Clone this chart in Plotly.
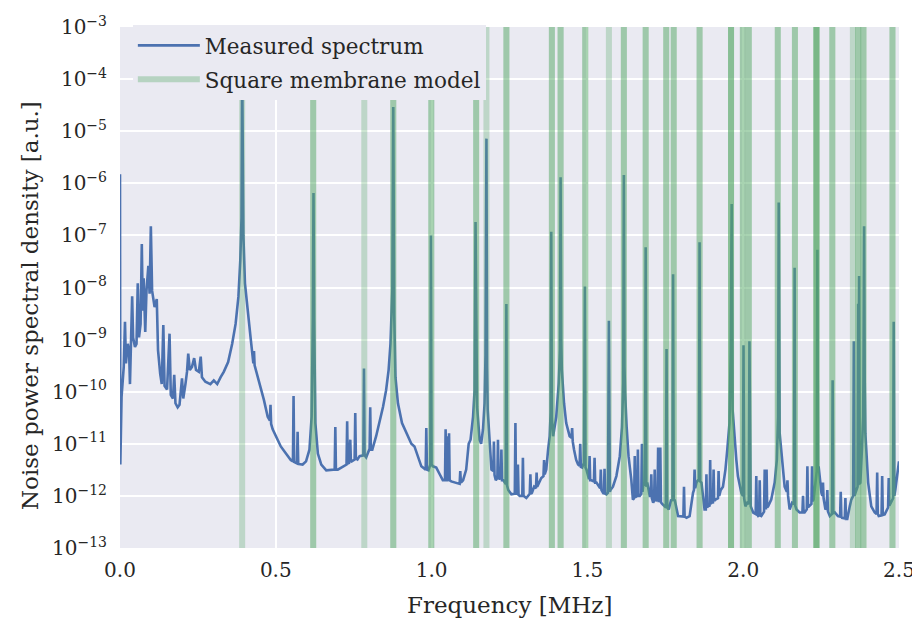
import plotly.graph_objects as go

# ---------------- data ----------------
# Measured noise power spectrum: (frequency [MHz], PSD [a.u.]) points, by frequency band
spectrum_0_065 = [
    (0.000, 1.5e-6), (0.001, 4.0e-12), (0.005, 7.9e-11), (0.012, 3.0e-10), (0.016, 2.2e-9),
    (0.019, 3.5e-10), (0.025, 8.3e-10), (0.029, 6.3e-10), (0.032, 1.4e-10), (0.035, 7.2e-10),
    (0.039, 6.8e-9), (0.042, 1.1e-9), (0.048, 7.2e-10), (0.053, 8.3e-10), (0.057, 1.2e-8),
    (0.061, 1.1e-9), (0.066, 2.0e-9), (0.070, 6.8e-8), (0.073, 3.6e-9), (0.076, 1.5e-8),
    (0.081, 1.4e-9), (0.085, 8.7e-9), (0.091, 2.6e-8), (0.095, 7.6e-9), (0.099, 1.5e-7),
    (0.103, 8.7e-9), (0.111, 4.2e-9), (0.118, 6.0e-9), (0.122, 6.3e-10), (0.129, 2.2e-10),
    (0.134, 1.4e-10), (0.139, 1.9e-9), (0.143, 1.3e-10), (0.151, 1.1e-10), (0.159, 1.3e-9),
    (0.163, 8.7e-11), (0.170, 7.4e-11), (0.174, 2.1e-10), (0.178, 6.0e-11), (0.185, 5.0e-11),
    (0.191, 5.6e-11), (0.199, 1.8e-10), (0.203, 7.4e-11), (0.210, 1.4e-10), (0.215, 2.4e-10),
    (0.219, 5.4e-10), (0.224, 2.6e-10), (0.231, 3.0e-10), (0.238, 4.4e-10), (0.244, 2.6e-10),
    (0.253, 2.4e-10), (0.259, 4.7e-10), (0.263, 1.9e-10), (0.274, 1.55e-10), (0.290, 1.4e-10),
    (0.301, 1.65e-10), (0.312, 1.4e-10), (0.323, 1.9e-10), (0.333, 2.4e-10), (0.347, 3.7e-10),
    (0.360, 8.3e-10), (0.371, 2.0e-9), (0.380, 6.6e-9), (0.386, 3.3e-8), (0.390, 2.2e-7),
    (0.392, 2.0e-4), (0.394, 2.0e-7), (0.396, 1.0e-7), (0.401, 1.2e-8), (0.409, 3.6e-9),
    (0.419, 1.1e-9), (0.428, 3.5e-10), (0.430, 6.0e-10), (0.432, 3.2e-10), (0.446, 1.65e-10),
    (0.462, 6.9e-11), (0.474, 3.3e-11), (0.481, 2.8e-11), (0.483, 5.6e-11), (0.485, 2.4e-11),
    (0.490, 1.9e-11), (0.500, 1.4e-11), (0.516, 8.9e-12), (0.532, 6.6e-12), (0.548, 4.9e-12),
    (0.555, 4.6e-12), (0.557, 8.3e-11), (0.559, 4.5e-12), (0.568, 4.2e-12), (0.570, 1.7e-11),
    (0.572, 4.1e-12), (0.586, 4.0e-12), (0.597, 4.6e-12), (0.608, 7.7e-12), (0.615, 3.3e-11),
    (0.619, 2.7e-9), (0.621, 6.5e-7), (0.623, 2.5e-9), (0.627, 2.5e-11), (0.635, 6.5e-12),
    (0.646, 4.0e-12),
]

spectrum_065_130 = [
    (0.662, 3.1e-12), (0.678, 3.1e-12), (0.689, 3.2e-12), (0.691, 2.1e-11), (0.693, 3.2e-12),
    (0.699, 3.2e-12), (0.715, 3.7e-12), (0.727, 4.0e-12), (0.729, 2.7e-11), (0.731, 4.2e-12),
    (0.735, 4.3e-12), (0.739, 1.2e-11), (0.741, 4.5e-12), (0.748, 4.9e-12), (0.753, 5.0e-12),
    (0.755, 3.9e-11), (0.757, 5.2e-12), (0.762, 5.0e-12), (0.769, 5.8e-12), (0.781, 6.0e-12),
    (0.783, 2.8e-10), (0.785, 6.0e-12), (0.790, 5.5e-12), (0.801, 8.0e-12), (0.803, 5.0e-11),
    (0.805, 8.0e-12), (0.810, 7.8e-12), (0.822, 1.4e-11), (0.833, 2.5e-11), (0.844, 5.1e-11),
    (0.854, 1.07e-10), (0.862, 2.6e-10), (0.868, 8.3e-10), (0.874, 8.7e-9), (0.877, 2.9e-5),
    (0.880, 3.0e-9), (0.884, 1.9e-10), (0.892, 6.0e-11), (0.905, 2.5e-11), (0.919, 1.6e-11),
    (0.935, 1.0e-11), (0.945, 8.9e-12), (0.956, 5.8e-12), (0.967, 3.7e-12), (0.978, 3.3e-12),
    (0.981, 3.2e-12), (0.983, 2.0e-11), (0.985, 3.2e-12), (0.990, 3.1e-12), (0.996, 4.0e-12),
    (0.998, 1.0e-7), (1.000, 4.0e-12), (1.004, 3.7e-12), (1.015, 3.5e-12), (1.026, 2.6e-12),
    (1.036, 2.0e-12), (1.043, 2.0e-12), (1.045, 1.9e-11), (1.047, 2.0e-12), (1.050, 2.0e-12),
    (1.052, 1.4e-11), (1.054, 2.2e-12), (1.056, 1.6e-11), (1.058, 2.0e-12), (1.063, 1.9e-12),
    (1.074, 1.8e-12), (1.085, 1.7e-12), (1.090, 1.7e-12), (1.092, 3.0e-12), (1.094, 1.8e-12),
    (1.101, 2.0e-12), (1.111, 3.2e-12), (1.119, 1.0e-11), (1.125, 1.2e-11), (1.133, 3.3e-11),
    (1.138, 1.07e-10), (1.141, 1.8e-7), (1.144, 1.5e-10), (1.146, 5.1e-11), (1.154, 1.2e-11),
    (1.159, 1.0e-11), (1.165, 1.9e-11), (1.170, 6.0e-11), (1.173, 5.0e-10), (1.176, 7.2e-6),
    (1.178, 3.0e-10), (1.180, 4.5e-11), (1.186, 1.2e-11), (1.192, 3.2e-12), (1.198, 3.0e-12),
    (1.200, 1.1e-11), (1.202, 2.5e-12), (1.206, 2.0e-12), (1.211, 2.2e-12), (1.213, 1.2e-11),
    (1.215, 2.1e-12), (1.219, 2.2e-12), (1.222, 2.1e-12), (1.224, 7.8e-12), (1.226, 2.0e-12),
    (1.230, 2.0e-12), (1.235, 1.8e-12), (1.238, 1.7e-12), (1.240, 4.8e-9), (1.242, 1.6e-12),
    (1.246, 1.3e-12), (1.256, 1.07e-12), (1.267, 1.1e-12), (1.269, 2.5e-11), (1.271, 1.1e-12),
    (1.275, 1.1e-12), (1.277, 4.0e-12), (1.279, 1.05e-12), (1.283, 1.0e-12), (1.291, 1.0e-12),
    (1.293, 5.4e-12), (1.295, 1.0e-12), (1.304, 9.1e-13),
]

spectrum_130_188 = [
    (1.315, 1.1e-12), (1.317, 2.6e-12), (1.319, 1.1e-12), (1.322, 1.15e-12), (1.329, 1.5e-12),
    (1.335, 1.4e-12), (1.337, 2.8e-12), (1.339, 1.5e-12), (1.344, 1.8e-12), (1.352, 2.2e-12),
    (1.359, 2.4e-12), (1.361, 4.9e-12), (1.363, 2.6e-12), (1.368, 3.2e-12), (1.374, 7.8e-12),
    (1.379, 1.4e-11), (1.382, 4.0e-11), (1.384, 1.17e-7), (1.386, 3.0e-11), (1.390, 1.4e-11),
    (1.400, 3.3e-11), (1.408, 1.45e-10), (1.412, 6.3e-10), (1.414, 1.3e-6), (1.416, 1.0e-9),
    (1.418, 2.6e-10), (1.425, 6.0e-11), (1.432, 2.5e-11), (1.443, 1.4e-11), (1.449, 1.3e-11),
    (1.451, 2.0e-11), (1.453, 1.1e-11), (1.457, 7.8e-12), (1.464, 4.9e-12), (1.470, 4.0e-12),
    (1.475, 3.8e-12), (1.477, 1.0e-11), (1.479, 3.6e-12), (1.483, 3.5e-12), (1.489, 4.3e-12),
    (1.492, 1.05e-8), (1.494, 3.5e-12), (1.497, 3.2e-12), (1.502, 2.2e-12), (1.505, 2.1e-12),
    (1.507, 5.8e-12), (1.509, 2.0e-12), (1.513, 2.0e-12), (1.521, 1.9e-12), (1.523, 5.4e-12),
    (1.525, 1.8e-12), (1.529, 1.8e-12), (1.539, 1.5e-12), (1.541, 1.4e-12), (1.543, 3.2e-12),
    (1.545, 1.3e-12), (1.550, 1.15e-12), (1.553, 1.1e-12), (1.555, 3.3e-12), (1.557, 1.1e-12),
    (1.561, 1.07e-12), (1.566, 1.15e-12), (1.569, 2.3e-9), (1.572, 1.2e-12), (1.574, 1.3e-12),
    (1.582, 1.5e-12), (1.593, 2.4e-12), (1.604, 5.8e-12), (1.611, 2.1e-11), (1.615, 1.45e-10),
    (1.617, 1.45e-6), (1.619, 3.0e-10), (1.621, 9.3e-11), (1.626, 2.1e-11), (1.632, 5.8e-12),
    (1.641, 2.0e-12), (1.646, 8.5e-13), (1.650, 9.0e-13), (1.652, 5.8e-12), (1.654, 9.5e-13),
    (1.657, 1.0e-12), (1.660, 1.0e-12), (1.662, 7.8e-12), (1.664, 1.0e-12), (1.668, 1.0e-12),
    (1.673, 1.1e-12), (1.675, 1.0e-11), (1.677, 1.2e-12), (1.680, 1.8e-12), (1.685, 1.6e-12),
    (1.687, 5.9e-8), (1.689, 1.5e-12), (1.692, 1.8e-12), (1.700, 1.0e-12), (1.703, 1.0e-12),
    (1.705, 2.6e-12), (1.707, 9.0e-13), (1.711, 7.4e-13), (1.714, 8.0e-13), (1.716, 3.2e-12),
    (1.718, 8.0e-13), (1.721, 8.5e-13), (1.725, 8.0e-13), (1.727, 8.5e-12), (1.729, 8.0e-13),
    (1.732, 8.0e-13), (1.734, 8.5e-12), (1.736, 7.5e-13), (1.740, 7.0e-13), (1.748, 6.3e-13),
    (1.752, 6.0e-13), (1.754, 6.6e-10), (1.756, 6.0e-13), (1.761, 5.5e-13), (1.769, 8.5e-13),
    (1.773, 8.0e-13), (1.775, 1.8e-8), (1.777, 8.0e-13), (1.780, 8.5e-13), (1.791, 4.1e-13),
    (1.802, 4.1e-13), (1.808, 4.0e-13), (1.810, 1.5e-12), (1.812, 4.0e-13), (1.818, 3.8e-13),
    (1.828, 4.1e-13), (1.839, 1.15e-12), (1.842, 1.3e-12), (1.844, 3.2e-12), (1.846, 1.4e-12),
    (1.850, 1.8e-12), (1.855, 2.0e-12), (1.858, 2.0e-12), (1.860, 7.4e-8), (1.862, 1.9e-12),
    (1.866, 1.8e-12), (1.876, 5.5e-13),
]

spectrum_188_250 = [
    (1.880, 5.5e-13), (1.882, 2.6e-12), (1.884, 6.0e-13), (1.887, 6.3e-13), (1.892, 6.5e-13),
    (1.894, 4.9e-12), (1.896, 7.0e-13), (1.898, 7.4e-13), (1.903, 7.5e-13), (1.905, 3.2e-12),
    (1.907, 8.0e-13), (1.911, 8.5e-13), (1.919, 9.0e-13), (1.921, 3.0e-12), (1.923, 1.0e-12),
    (1.928, 1.3e-12), (1.935, 1.5e-12), (1.943, 3.2e-12), (1.949, 7.8e-12), (1.956, 2.5e-11),
    (1.960, 6.3e-10), (1.963, 4.0e-7), (1.966, 4.5e-11), (1.973, 1.0e-11), (1.978, 4.9e-12),
    (1.983, 2.4e-12), (1.994, 1.15e-12), (1.999, 1.0e-12), (2.001, 7.8e-10), (2.003, 9.0e-13),
    (2.007, 6.3e-13), (2.013, 7.4e-13), (2.018, 7.0e-13), (2.020, 9.3e-10), (2.022, 7.0e-13),
    (2.024, 6.3e-13), (2.032, 4.8e-13), (2.040, 4.5e-13), (2.042, 2.4e-12), (2.044, 4.5e-13),
    (2.048, 4.1e-13), (2.051, 4.2e-13), (2.053, 2.0e-12), (2.055, 4.2e-13), (2.058, 4.1e-13),
    (2.067, 5.0e-13), (2.069, 3.2e-12), (2.071, 5.5e-13), (2.073, 5.5e-13), (2.075, 3.2e-12),
    (2.077, 6.0e-13), (2.080, 6.3e-13), (2.090, 8.5e-13), (2.101, 1.8e-12), (2.108, 4.9e-12),
    (2.112, 3.3e-11), (2.114, 4.3e-7), (2.117, 1.6e-11), (2.125, 4.3e-12), (2.133, 1.5e-12),
    (2.140, 1.2e-12), (2.142, 2.0e-12), (2.144, 1.0e-12), (2.149, 5.5e-13), (2.157, 7.4e-13),
    (2.163, 7.0e-13), (2.165, 2.4e-8), (2.167, 6.5e-13), (2.171, 5.5e-13), (2.181, 4.8e-13),
    (2.190, 4.8e-13), (2.192, 1.0e-12), (2.194, 4.8e-13), (2.197, 4.8e-13), (2.204, 5.5e-13),
    (2.206, 3.7e-12), (2.208, 6.0e-13), (2.211, 6.3e-13), (2.219, 7.0e-13), (2.221, 3.7e-12),
    (2.223, 8.0e-13), (2.226, 8.5e-13), (2.233, 2.4e-12), (2.236, 3.0e-12), (2.238, 5.3e-8),
    (2.240, 3.5e-12), (2.242, 3.7e-12), (2.251, 1.15e-12), (2.254, 1.0e-12), (2.256, 1.8e-12),
    (2.258, 9.0e-13), (2.264, 5.5e-13), (2.268, 6.0e-13), (2.270, 1.3e-12), (2.272, 5.0e-13),
    (2.278, 4.1e-13), (2.285, 4.5e-13), (2.287, 1.66e-10), (2.289, 4.6e-13), (2.294, 4.8e-13),
    (2.304, 4.1e-13), (2.311, 4.0e-13), (2.313, 1.2e-12), (2.315, 4.0e-13), (2.317, 3.8e-13),
    (2.326, 3.7e-13), (2.328, 9.1e-13), (2.330, 3.6e-13), (2.334, 3.6e-13), (2.342, 6.3e-13),
    (2.347, 8.5e-13), (2.353, 1.0e-12), (2.355, 9.3e-10), (2.357, 1.0e-12), (2.360, 1.15e-12),
    (2.367, 1.5e-12), (2.369, 4.9e-9), (2.370, 1.6e-12), (2.372, 1.66e-8), (2.374, 1.7e-12),
    (2.376, 1.8e-12), (2.381, 7.8e-12), (2.385, 3.3e-11), (2.386, 2.0e-10), (2.388, 1.5e-7),
    (2.390, 1.5e-10), (2.392, 1.6e-11), (2.401, 1.8e-12), (2.411, 6.3e-13), (2.422, 4.8e-13),
    (2.428, 4.5e-13), (2.430, 2.8e-12), (2.432, 4.5e-13), (2.435, 4.1e-13), (2.444, 4.2e-13),
    (2.446, 2.4e-12), (2.448, 4.3e-13), (2.454, 4.4e-13), (2.465, 6.0e-13), (2.467, 2.2e-12),
    (2.469, 6.5e-13), (2.474, 7.4e-13), (2.481, 9.0e-13), (2.483, 2.2e-9), (2.485, 1.0e-12),
    (2.488, 1.3e-12), (2.495, 2.4e-12), (2.500, 4.6e-12),
]

# Square membrane model: mode frequencies [MHz] and how many modes share each frequency
model_freq_mhz = [0.392, 0.620, 0.784, 0.877, 0.999, 1.143, 1.176, 1.240, 1.386, 1.414,
                  1.493, 1.569, 1.617, 1.687, 1.753, 1.777, 1.860, 1.961, 1.999, 2.018,
                  2.111, 2.166, 2.235, 2.286, 2.352, 2.369, 2.386, 2.479]
model_degeneracy = [1, 2, 1, 2, 2, 2, 1, 2, 2, 2,
                    2, 1, 2, 2, 2, 2, 2, 3, 2, 2,
                    2, 2, 4, 2, 1, 2, 2, 2]

series_names = ["Measured spectrum", "Square membrane model"]
x_tick_vals = [0.0, 0.5, 1.0, 1.5, 2.0, 2.5]
x_tick_text = ["0.0", "0.5", "1.0", "1.5", "2.0", "2.5"]
y_tick_vals = [1e-13, 1e-12, 1e-11, 1e-10, 1e-9, 1e-8, 1e-7, 1e-6, 1e-5, 1e-4, 1e-3]
y_tick_text = ["10<sup>−13</sup>", "10<sup>−12</sup>", "10<sup>−11</sup>", "10<sup>−10</sup>",
               "10<sup>−9</sup>", "10<sup>−8</sup>", "10<sup>−7</sup>", "10<sup>−6</sup>",
               "10<sup>−5</sup>", "10<sup>−4</sup>", "10<sup>−3</sup>"]
x_title = "Frequency [MHz]"
y_title = "Noise power spectral density [a.u.]"

# ---------------- figure ----------------
points = spectrum_0_065 + spectrum_065_130 + spectrum_130_188 + spectrum_188_250
freq_mhz = [p[0] for p in points]
psd = [p[1] for p in points]

BLUE = "#4C72B0"
GREEN_BAND = "rgba(85,168,104,0.30)"
FONT = "DejaVu Serif"
TEXT = "#262626"

fig = go.Figure()
fig.add_trace(go.Scatter(
    x=freq_mhz, y=psd, mode="lines", name=series_names[0],
    line=dict(color=BLUE, width=2.6), legendgroup="a",
))
fig.add_trace(go.Scatter(
    x=[None], y=[None], mode="lines", name=series_names[1],
    line=dict(color="rgba(85,168,104,0.35)", width=6), legendgroup="b",
))

for f, n in zip(model_freq_mhz, model_degeneracy):
    for _ in range(n):
        fig.add_shape(type="line", xref="x", yref="y domain", x0=f, x1=f, y0=0, y1=1,
                      line=dict(color=GREEN_BAND, width=6), layer="above")

fig.add_annotation(text=x_title, xref="paper", yref="paper", x=0.5, y=-0.109,
                   xanchor="center", yanchor="middle", showarrow=False,
                   font=dict(family=FONT, size=23, color=TEXT))
fig.add_annotation(text=y_title, xref="paper", yref="paper", x=-0.1155, y=0.4645,
                   xanchor="center", yanchor="middle", showarrow=False, textangle=-90,
                   font=dict(family=FONT, size=23, color=TEXT))

# the page body adds an 8 px offset, so the figure is 912x612 with margins shifted by 8 px
fig.update_layout(
    width=912, height=612,
    margin=dict(l=112, r=21, t=19, b=72, autoexpand=False),
    paper_bgcolor="white", plot_bgcolor="#EAEAF2",
    font=dict(family=FONT, size=20, color=TEXT),
    showlegend=True,
    legend=dict(x=0.0165, y=1.004, xanchor="left", yanchor="top",
                bgcolor="#EAEAF2", borderwidth=0, font=dict(family=FONT, size=21.5, color=TEXT),
                tracegroupgap=3, itemwidth=62),
    xaxis=dict(range=[0, 2.5], tickvals=x_tick_vals, ticktext=x_tick_text, automargin=False,
               showgrid=True, gridcolor="white", gridwidth=1.5, zeroline=False,
               showline=False, ticks="", tickfont=dict(size=20), ticklabelstandoff=8),
    yaxis=dict(type="log", range=[-13, -3], tickvals=y_tick_vals, ticktext=y_tick_text,
               automargin=False,
               showgrid=True, gridcolor="white", gridwidth=1.5, zeroline=False,
               showline=False, ticks="", tickfont=dict(size=20), ticklabelstandoff=12),
)

fig.write_html("out.html")
